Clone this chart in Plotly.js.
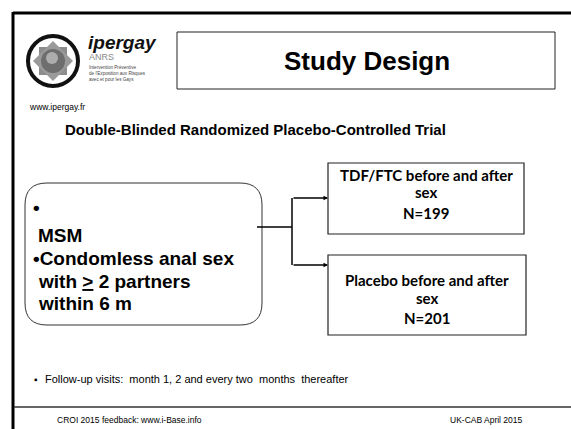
<!DOCTYPE html>
<html>
<head>
<meta charset="utf-8">
<script src="https://cdn.plot.ly/plotly-3.0.1.min.js"></script>
<style>
  html, body { margin: 0; padding: 0; background: #fff; }
  #slide { width: 571px; height: 429px; }
</style>
</head>
<body>
<div id="slide"></div>
<script>
// Slide text
var slideTitle = "Study Design"
var subTitle = "Double-Blinded Randomized Placebo-Controlled Trial"
var criteriaLines = ["•", "MSM", "•Condomless anal sex", "with <u>></u> 2 partners", "within 6 m"]
var armNames = [["TDF/FTC before and after", "sex"], ["Placebo before and after", "sex"]]
var armN = [199, 201]
var followUp = "Follow-up visits:  month 1, 2 and every two  months  thereafter"
var logoLines = ["Intervention Préventive", "de l'Exposition aux Risques", "avec et pour les Gays"]
var footerLeft = "CROI 2015 feedback: www.i-Base.info"
var footerRight = "UK-CAB April 2015"

var arial = "Liberation Sans, Arial, sans-serif"
var calibri = "Lato, Open Sans, sans-serif"

// layout pieces (pixel coordinates, y downwards)
var armBoxes = [
    {x0: 328, x1: 524, y0: 163, y1: 234, lines: [175, 192, 213], arrowY: 198},
    {x0: 328, x1: 526, y0: 255, y1: 335, lines: [280, 298, 318], arrowY: 265}
]
var crit = {x0: 25, x1: 262, y0: 183, y1: 325, r: 22}
var branchX = 292
var stemY = 227

function roundedRect(b) {
    var r = b.r
    return "M" + (b.x0 + r) + "," + b.y0 +
        " L" + (b.x1 - r) + "," + b.y0 +
        " Q" + b.x1 + "," + b.y0 + " " + b.x1 + "," + (b.y0 + r) +
        " L" + b.x1 + "," + (b.y1 - r) +
        " Q" + b.x1 + "," + b.y1 + " " + (b.x1 - r) + "," + b.y1 +
        " L" + (b.x0 + r) + "," + b.y1 +
        " Q" + b.x0 + "," + b.y1 + " " + b.x0 + "," + (b.y1 - r) +
        " L" + b.x0 + "," + (b.y0 + r) +
        " Q" + b.x0 + "," + b.y0 + " " + (b.x0 + r) + "," + b.y0 + " Z"
}

var shapes = [
    // slide frame
    {type: "line", x0: 13, x1: 571, y0: 13, y1: 13, line: {color: "#000", width: 3}},
    {type: "line", x0: 13, x1: 13, y0: 12, y1: 429, line: {color: "#000", width: 3}},
    {type: "line", x0: 14, x1: 571, y0: 407, y1: 407, line: {color: "#333", width: 1.3}},
    // title box
    {type: "rect", x0: 177, x1: 555, y0: 32, y1: 89, line: {color: "#222", width: 1}},
    // criteria box
    {type: "path", path: roundedRect(crit), line: {color: "#333", width: 1}},
    // connector
    {type: "line", x0: 257, x1: branchX, y0: stemY, y1: stemY, line: {color: "#000", width: 1.5}},
    {type: "line", x0: branchX, x1: branchX, y0: armBoxes[0].arrowY, y1: armBoxes[1].arrowY, line: {color: "#000", width: 1.5}}
]

// arm boxes
armBoxes.forEach(function(b) {
    shapes.push({type: "rect", x0: b.x0, x1: b.x1, y0: b.y0, y1: b.y1, line: {color: "#222", width: 1.2}})
})

// logo: ring with grey star
var cx = 53, cy = 61
shapes.push({type: "path",
    path: "M" + (cx - 14) + "," + (cy - 14) + " L" + (cx + 14) + "," + (cy - 14) + " L" + (cx + 14) + "," + (cy + 14) + " L" + (cx - 14) + "," + (cy + 14) + " Z",
    fillcolor: "#8c8c8c", line: {width: 0}})
shapes.push({type: "path",
    path: "M" + cx + "," + (cy - 20) + " L" + (cx + 20) + "," + cy + " L" + cx + "," + (cy + 20) + " L" + (cx - 20) + "," + cy + " Z",
    fillcolor: "#9a9a9a", line: {width: 0}})
shapes.push({type: "circle", x0: cx - 12, x1: cx + 12, y0: cy - 12, y1: cy + 12, fillcolor: "#6e6e6e", line: {width: 0}})
shapes.push({type: "circle", x0: cx - 7, x1: cx + 5, y0: cy - 9, y1: cy + 3, fillcolor: "#adadad", line: {width: 0}})
shapes.push({type: "circle", x0: cx - 25, x1: cx + 25, y0: cy - 25, y1: cy + 25, line: {color: "#111", width: 4}})

function txt(x, y, text, size, opts) {
    var a = {x: x, y: y, text: text, showarrow: false, xanchor: "left", yanchor: "middle",
        font: {family: arial, size: size, color: "#000"}}
    return Object.assign(a, opts || {})
}

var annotations = [
    txt(86, 42, "<b><i>ipergay</i></b>", 19, {font: {family: arial, size: 19, color: "#111"}}),
    txt(87, 57, "ANRS", 9, {font: {family: arial, size: 9, color: "#888"}}),
    txt(27, 107, "www.ipergay.fr", 8.5),
    txt(367, 61, "<b>" + slideTitle + "</b>", 26, {xanchor: "center"}),
    txt(255, 129, "<b>" + subTitle + "</b>", 15, {xanchor: "center"}),
    txt(32, 379, "▪", 10),
    txt(43, 379, followUp, 11),
    txt(55, 420, footerLeft, 8.5),
    txt(525, 420, footerRight, 8.5, {xanchor: "right"})
]

logoLines.forEach(function(s, i) {
    annotations.push(txt(87, 67 + i * 6, s, 4.6, {font: {family: arial, size: 4.6, color: "#444"}}))
})

var critY = [207, 235, 258, 281, 303]
criteriaLines.forEach(function(s, i) {
    var x = (s.charAt(0) == "•") ? 31 : 36
    annotations.push(txt(x, critY[i], "<b>" + s + "</b>", 19))
})

armBoxes.forEach(function(b, i) {
    var mid = (b.x0 + b.x1) / 2
    var rows = armNames[i].concat(["N=" + armN[i]])
    rows.forEach(function(s, k) {
        annotations.push(txt(mid, b.lines[k], "<b>" + s + "</b>", 15,
            {xanchor: "center", font: {family: calibri, size: 15, color: "#000"}}))
    })
    // arrow into box
    annotations.push({x: b.x0, y: b.arrowY, ax: branchX, ay: b.arrowY,
        xref: "x", yref: "y", axref: "x", ayref: "y", text: "", showarrow: true,
        arrowhead: 2, arrowsize: 0.6, arrowwidth: 1.5, arrowcolor: "#000"})
})

var layout = {
    width: 571,
    height: 429,
    margin: {t: 0, l: 0, r: 0, b: 0, pad: 0},
    paper_bgcolor: "#fff",
    plot_bgcolor: "#fff",
    showlegend: false,
    xaxis: {range: [0, 571], visible: false, fixedrange: true},
    yaxis: {range: [429, 0], visible: false, fixedrange: true},
    shapes: shapes,
    annotations: annotations
}

Plotly.newPlot("slide", [], layout, {staticPlot: true})
</script>
</body>
</html>
